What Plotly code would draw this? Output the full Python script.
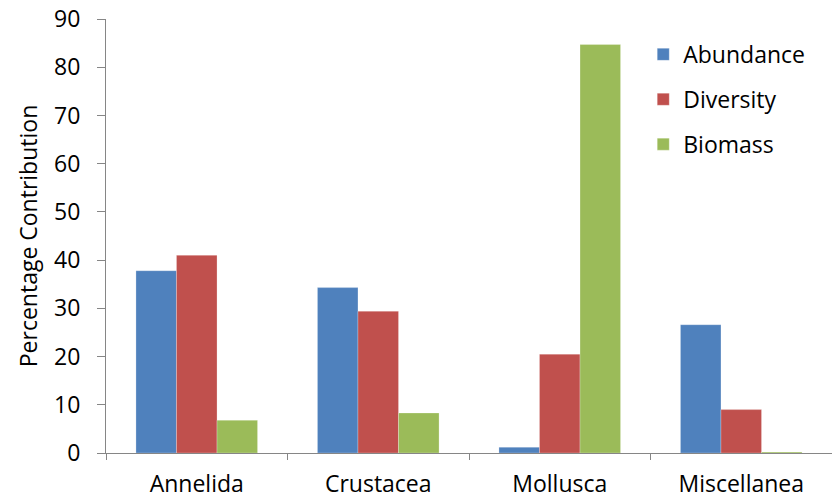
import plotly.graph_objects as go

categories = ["Annelida", "Crustacea", "Mollusca", "Miscellanea"]
abundance = [37.8, 34.3, 1.2, 26.6]
diversity = [41.0, 29.4, 20.5, 9.0]
biomass = [6.8, 8.3, 84.7, 0.2]
y_ticks = [0, 10, 20, 30, 40, 50, 60, 70, 80, 90]

series = [("Abundance", abundance, "#4F81BD"),
          ("Diversity", diversity, "#C0504D"),
          ("Biomass", biomass, "#9BBB59")]

fig = go.Figure()
for name, vals, col in series:
    fig.add_trace(go.Bar(x=categories, y=vals, name=name, legendgroup=name,
                         marker=dict(color=col, line=dict(color="rgba(255,255,255,0.5)", width=0.5))))

axis_col = "#868686"
fs = 23
fig.update_layout(
    width=832, height=500,
    margin=dict(l=106, r=0, t=19, b=47, autoexpand=False),
    paper_bgcolor="white", plot_bgcolor="white",
    font=dict(family="'Open Sans', sans-serif", size=fs, color="black"),
    barmode="group", bargap=0.33, bargroupgap=0,
    legend=dict(x=0.74, y=0.968, xanchor="left", yanchor="top",
                traceorder="grouped", tracegroupgap=12,
                font=dict(size=fs), itemwidth=30, bgcolor="rgba(0,0,0,0)"),
    xaxis=dict(showline=True, linecolor=axis_col, linewidth=1, automargin=False,
               ticks="outside", tickson="boundaries", ticklen=6, tickcolor=axis_col,
               range=[-0.5, 3.5], showgrid=False, tickfont=dict(size=fs),
               ticklabelstandoff=10),
    yaxis=dict(range=[0, 90], tickvals=y_ticks, showline=True, linecolor=axis_col,
               linewidth=1, ticks="outside", ticklen=8, tickcolor=axis_col,
               showgrid=False, zeroline=False, automargin=False, tickfont=dict(size=fs),
               ticklabelstandoff=12, ticklabeloverflow="allow",
               title=dict(text="Percentage Contribution", standoff=10, font=dict(size=fs))),
)
fig.write_html("out.html", config={"displayModeBar": False},
               post_script="document.body.style.margin='0px';")
